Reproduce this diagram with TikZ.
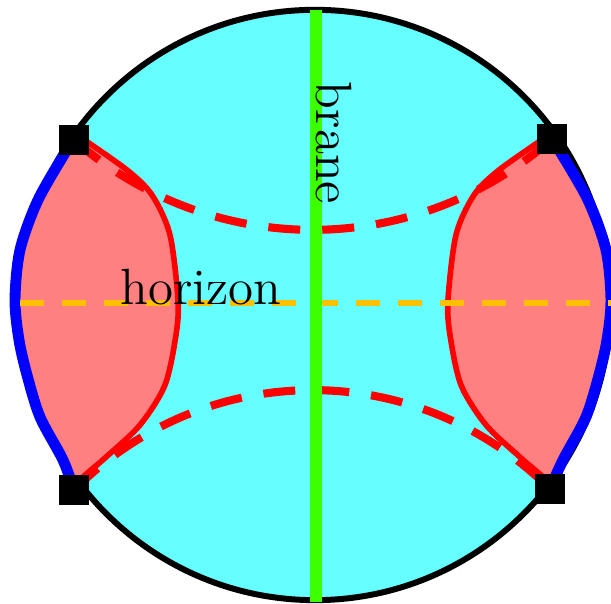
\documentclass[tikz,border=0pt]{standalone}
\definecolor{bulkcyan}{RGB}{102,255,255}
\definecolor{wedgered}{RGB}{255,128,128}
\definecolor{branegreen}{RGB}{60,255,0}
\definecolor{horizonyellow}{RGB}{255,192,0}
\begin{document}
\begin{tikzpicture}[x=0.01cm,y=-0.01cm,
    corner/.style={fill=black, minimum size=0.3cm, inner sep=0pt},
    geodesic/.style={red, line width=2.3pt, dash pattern=on 0.32cm off 0.22cm},
    bdry/.style={blue, line width=3.1pt, line join=round},
    rt/.style={red, line width=1.6pt},
    lbl/.style={font=\fontsize{14.5}{17}\selectfont, inner sep=0pt, anchor=base}]
        \useasboundingbox (0,0) rectangle (611,604);
        \coordinate (tl) at (74,140);
        \coordinate (tr) at (552,139);
        \coordinate (bl) at (74,490);
        \coordinate (br) at (550,489);
        % bulk
        \filldraw[fill=bulkcyan, draw=black, line width=1.7pt] (315,305) circle (2.95cm);
        % wedges
        \fill[wedgered] plot[smooth] coordinates {(74,140) (68,148) (38,200) (20,250) (15,300) (19,340) (27,375) (40,417) (63,460) (74,490)}
            -- plot[smooth] coordinates {(74,490) (82,478) (105,458) (140,425) (165,385) (176,335) (178,300) (170,235) (152,195) (127,170) (80,137)} -- cycle;
        \fill[wedgered] plot[smooth] coordinates {(552,139) (558,148) (588,200) (606,250) (611,300) (607,340) (599,375) (586,417) (563,460) (550,489)}
            -- plot[smooth] coordinates {(550,489) (544,478) (521,458) (486,425) (461,385) (450,335) (448,300) (456,235) (474,195) (499,170) (546,137)} -- cycle;
        \draw[rt] plot[smooth] coordinates {(80,137) (127,170) (152,195) (170,235) (178,300) (176,335) (165,385) (140,425) (105,458) (82,478) (74,490)};
        \draw[rt] plot[smooth] coordinates {(546,137) (499,170) (474,195) (456,235) (448,300) (450,335) (461,385) (486,425) (521,458) (544,478) (550,489)};
        \draw[bdry] plot[smooth] coordinates {(74,140) (68,148) (38,200) (20,250) (15,300) (19,340) (27,375) (40,417) (63,460) (74,490)};
        \draw[bdry] plot[smooth] coordinates {(552,139) (558,148) (588,200) (606,250) (611,300) (607,340) (599,375) (586,417) (563,460) (550,489)};
        % geodesics
        \draw[geodesic] (tl) .. controls (212,260) and (414,260) .. (tr);
        \draw[geodesic] (bl) .. controls (207,357) and (417,357) .. (br);
        \draw[horizonyellow, line width=1.7pt, dash pattern=on 0.24cm off 0.18cm] (20,303) -- (620,303);
        % brane
        \draw[branegreen, line width=3.4pt] (316,10) -- (316,602);
        \node[corner] (sqtl) at (tl) {};
        \node[corner] (sqtr) at (tr) {};
        \node[corner] (sqbl) at (bl) {};
        \node[corner] (sqbr) at (br) {};
        \node[lbl] (horizonlbl) at (201,305) {horizon};
        \node[lbl, rotate=-90] (branelbl) at (317,143) {brane};
\end{tikzpicture}
\end{document}
